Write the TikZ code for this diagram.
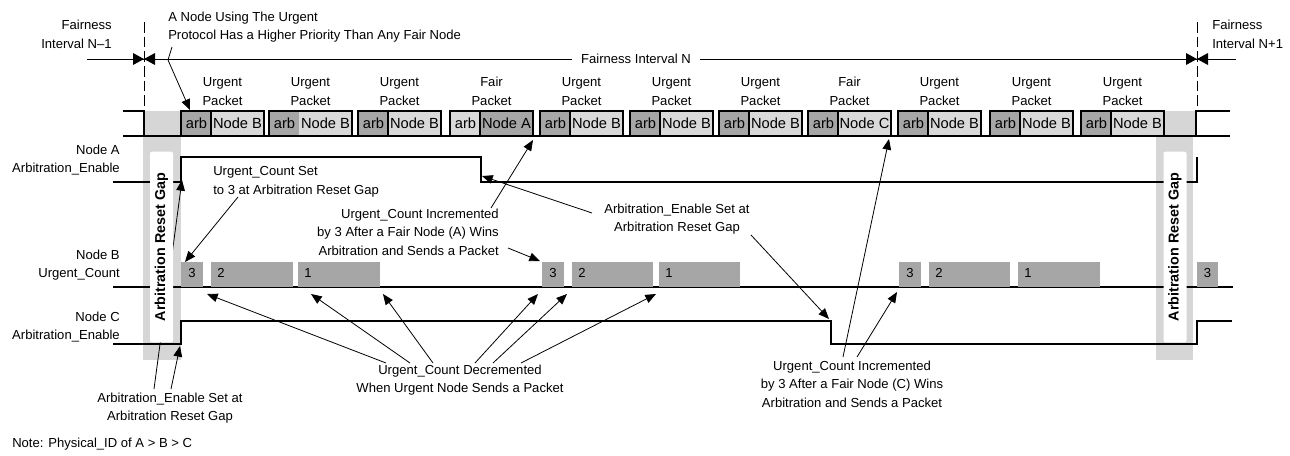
\documentclass[tikz,border=0pt]{standalone}
\usepackage{fontspec}
\setmainfont{Liberation Sans}
\usetikzlibrary{arrows.meta}
\definecolor{dk}{RGB}{166,166,166}
\definecolor{lt}{RGB}{217,217,217}
\definecolor{gapc}{RGB}{214,214,214}
\newcommand\fs{\fontsize{9.8}{14}\selectfont}
\begin{document}
\begin{tikzpicture}[x=0.75pt,y=-0.75pt,
  sig/.style={line width=1.5pt},
  boxl/.style={line width=1.5pt},
  thin/.style={line width=0.75pt},
  ann/.style={line width=0.6pt,-{Triangle[length=8pt,width=6.5pt]}},
  txt/.style={font=\fs,inner sep=0pt},
  btxt/.style={font=\fontsize{11}{13}\selectfont,inner sep=0pt},
  gaplbl/.style={fill=white,rounded corners=1.5pt,rotate=90,minimum width=143pt,minimum height=17.25pt,inner sep=0pt,font=\fontsize{10.75}{13}\selectfont\bfseries}]
\useasboundingbox (0,0) rectangle (1290,455);

% gap columns
\fill[gapc] (143,111) rectangle (181,360);
\fill[gapc] (1156,136) rectangle (1193,360);
\fill[gapc] (1164,111) rectangle (1196,136);

% fairness interval line
\draw[thin] (87,59) -- (1236,59);
\draw[thin,dash pattern=on 8pt off 3pt] (144,22) -- (144,111);
\draw[thin,dash pattern=on 8pt off 3pt] (1197,22) -- (1197,111);
\fill (133,53) -- (144,59) -- (133,65) -- cycle;
\fill (155,53) -- (144,59) -- (155,65) -- cycle;
\fill (1186,53) -- (1197,59) -- (1186,65) -- cycle;
\fill (1208,53) -- (1197,59) -- (1208,65) -- cycle;
\node[txt,fill=white,inner xsep=7pt,inner ysep=2pt] (fn) at (636,59) {Fairness Interval N};
\node[txt,align=right,anchor=east] (fnm) at (112,34) {Fairness\\Interval N–1};
\node[txt,align=left,anchor=west] (fnp) at (1212,34) {Fairness\\Interval N+1};
\node[txt,align=left,anchor=west] (prio) at (168,27) {A Node Using The Urgent\\Protocol Has a Higher Priority Than Any Fair Node};

% bus
\draw[sig] (123,111) -- (144,111) -- (144,136);
\draw[sig] (123,136) -- (1230,136);
\draw[sig] (1196,136) -- (1196,111) -- (1230,111);

% packets
\foreach \i/\s/\lab/\nd/\ca/\cn/\sep in {1/181/Urgent/B/dk/lt/1, 2/269/Urgent/B/dk/lt/0, 3/358/Urgent/B/dk/lt/1, 4/450/Fair/A/lt/dk/1, 5/540/Urgent/B/dk/lt/1, 6/630/Urgent/B/dk/lt/1, 7/719/Urgent/B/dk/lt/1, 8/808/Fair/C/dk/lt/1, 9/898/Urgent/B/dk/lt/1, 10/990/Urgent/B/dk/lt/1, 11/1081/Urgent/B/dk/lt/1}{
  \fill[\ca] (\s,111) rectangle (\s+30,136);
  \fill[\cn] (\s+30,111) rectangle (\s+83,136);
  \ifnum\sep=1 \draw[boxl] (\s+30,111) -- (\s+30,136);\fi
  \draw[boxl] (\s,111) rectangle (\s+83,136);
  \node[btxt] (arb\i) at (\s+15.5,123.5) {arb};
  \node[btxt] (nd\i) at (\s+56.5,123.5) {Node \nd};
  \node[txt,align=center] (pk\i) at (\s+41.5,91.5) {\lab\\Packet};
}

% signal labels
\node[txt,align=right,anchor=east] (la) at (120,160) {Node A\\Arbitration\_Enable};
\node[txt,align=right,anchor=east] (lb) at (120,265) {Node B\\Urgent\_Count};
\node[txt,align=right,anchor=east] (lc) at (120,327) {Node C\\Arbitration\_Enable};

% signals
\draw[sig] (113,182) -- (181,182) -- (181,157) -- (481,157) -- (481,182) -- (1197,182) -- (1197,157);
\draw[sig] (113,287) -- (1233,287);
\draw[sig] (113,344) -- (181,344) -- (181,321) -- (831,321) -- (831,344) -- (1197,344) -- (1197,321) -- (1232,321);

% urgent count boxes
\foreach \j/\x/\w/\v in {1/181/22/3, 2/211/82/2, 3/298/82/1, 4/542/22/3, 5/572/81/2, 6/659/81/1, 7/899/22/3, 8/929/81/2, 9/1018/82/1, 10/1197/21/3}{
  \fill[dk] (\x,262) rectangle (\x+\w,287);
  \ifnum\w<30
    \node[txt] (c\j) at (\x+\w/2,273) {\v};
  \else
    \node[txt,anchor=west] (c\j) at (\x+6,273) {\v};
  \fi
}

% annotation texts
\node[txt,align=left,anchor=west] (ucs) at (213,182) {Urgent\_Count Set\\to 3 at Arbitration Reset Gap};
\node[txt,align=right,anchor=east] (inca) at (499,232) {Urgent\_Count Incremented\\by 3 After a Fair Node (A) Wins\\Arbitration and Sends a Packet};
\node[txt,align=center] (aes) at (677,219) {Arbitration\_Enable Set at\\Arbitration Reset Gap};
\node[txt,align=center] (dec) at (460,380) {Urgent\_Count Decremented\\When Urgent Node Sends a Packet};
\node[txt,align=center] (incc) at (852,384) {Urgent\_Count Incremented\\by 3 After a Fair Node (C) Wins\\Arbitration and Sends a Packet};
\node[txt,align=center] (aes2) at (170,408) {Arbitration\_Enable Set at\\Arbitration Reset Gap};
\node[txt,anchor=west] (note) at (12,444) {Note: Physical\_ID of A > B > C};

% coordinates for arrows
\coordinate (p1) at (172,47); \coordinate (p2) at (168,60); \coordinate (p3) at (190,110);
\coordinate (u1) at (238,197); \coordinate (u2) at (185,262);
\coordinate (b1) at (154,389); \coordinate (b2) at (182,180);
\coordinate (b3) at (171,389); \coordinate (b4) at (180,346);
\coordinate (a1) at (491,208); \coordinate (a2) at (533,140);
\coordinate (a3) at (508,248); \coordinate (a4) at (540,261);
\coordinate (e1) at (592,213); \coordinate (e2) at (482,176);
\coordinate (e3) at (751,235); \coordinate (e4) at (829,319);
\coordinate (k1) at (843,357); \coordinate (k2) at (889,139);
\coordinate (k3) at (857,357); \coordinate (k4) at (897,292);
\foreach \n/\sx/\tx in {1/386/207, 2/410/311, 3/433/383, 4/475/538, 5/493/567, 6/521/656}{
  \coordinate (ds\n) at (\sx,363);
  \coordinate (dt\n) at (\tx,294);
}

% arrows
\draw[ann] (p1) -- (p2) -- (p3);
\draw[ann] (u1) -- (u2);
\draw[ann] (b1) -- (b2);
\draw[ann] (b3) -- (b4);
\draw[ann] (a1) -- (a2);
\draw[ann] (a3) -- (a4);
\draw[ann] (e1) -- (e2);
\draw[ann] (e3) -- (e4);
\draw[ann] (k1) -- (k2);
\draw[ann] (k3) -- (k4);
\foreach \n in {1,...,6}{ \draw[ann] (ds\n) -- (dt\n); }

% gap labels
\node[gaplbl] (g1) at (161.5,247) {Arbitration Reset Gap};
\node[gaplbl] (g2) at (1175,247) {Arbitration Reset Gap};
\end{tikzpicture}
\end{document}
